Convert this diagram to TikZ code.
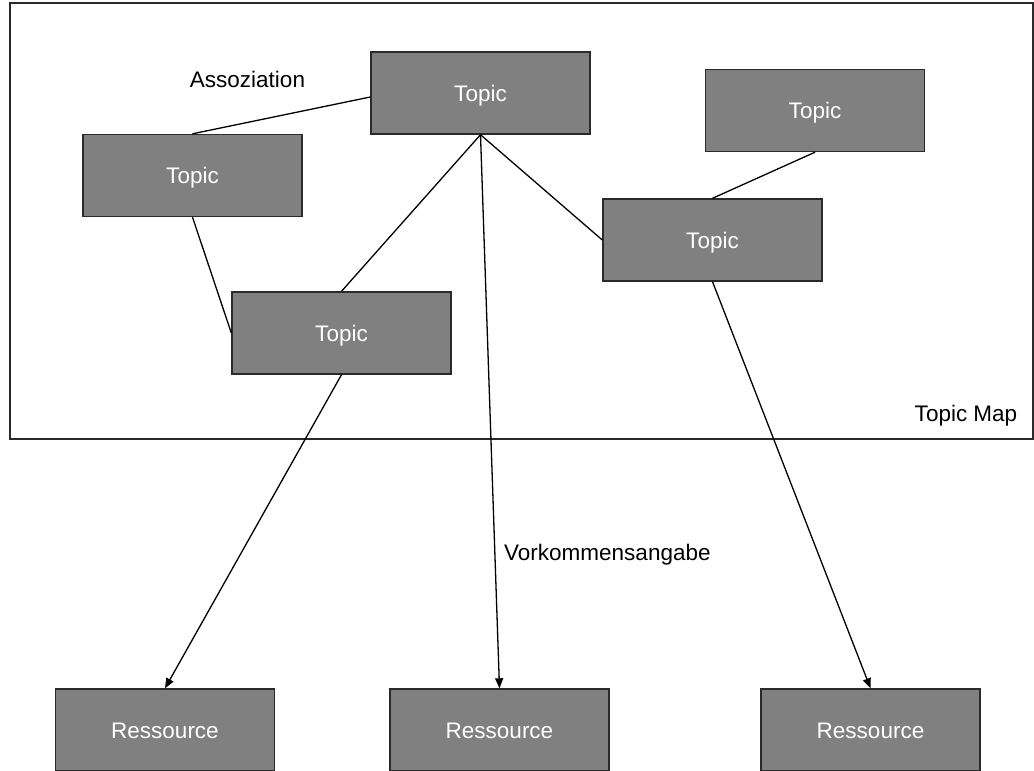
\documentclass[tikz,border=0pt]{standalone}
\usepackage{fontspec}
\setmainfont{Liberation Sans}
\usetikzlibrary{arrows.meta}
\definecolor{boxfill}{HTML}{808080}
\definecolor{boxline}{HTML}{2A2A2A}
\begin{document}
\begin{tikzpicture}[x=1pt,y=-1pt,
  box/.style={draw=boxline,fill=boxfill,line width=1.4pt,minimum width=219pt,minimum height=82pt,inner sep=0pt,text height=16pt,text depth=0pt,text=white,font=\fontsize{22.5}{27}\selectfont},
  lbl/.style={inner sep=0pt,text height=16pt,text depth=0pt,text=black,font=\fontsize{22.5}{27}\selectfont},
  conn/.style={draw=black,line width=1.3pt},
  arr/.style={conn,-{Triangle[length=10pt,width=8pt]}}]
\useasboundingbox (0,0) rectangle (1034,771);
\fill[white] (0,0) rectangle (1034,771);
\draw[line width=1.4pt,draw=boxline] (10,3) rectangle (1033,439);
\node[box] (T1) at (480.5,93) {Topic};
\node[box] (T2) at (192.5,175.5) {Topic};
\node[box] (T3) at (341.5,333) {Topic};
\node[box] (T4) at (815,110.5) {Topic};
\node[box] (T5) at (712.5,240) {Topic};
\node[box] (R1) at (165,730) {Ressource};
\node[box] (R2) at (499.5,730) {Ressource};
\node[box] (R3) at (870.5,730) {Ressource};
\node[lbl] (assoc) at (247.5,79) {Assoziation};
\node[lbl,anchor=west] (vork) at (504,552) {Vorkommensangabe};
\node[lbl] (tmap) at (966,413) {Topic Map};
\draw[conn] ([yshift=-4pt]T1.west) -- (T2.north);
\draw[conn] (T2.south) -- (T3.west);
\draw[conn] (T1.south) -- (T3.north);
\draw[conn] (T1.south) -- (T5.west);
\draw[conn] (T4.south) -- (T5.north);
\draw[arr] (T1.south) -- (R2.north);
\draw[arr] (T3.south) -- (R1.north);
\draw[arr] (T5.south) -- (R3.north);
\end{tikzpicture}
\end{document}
